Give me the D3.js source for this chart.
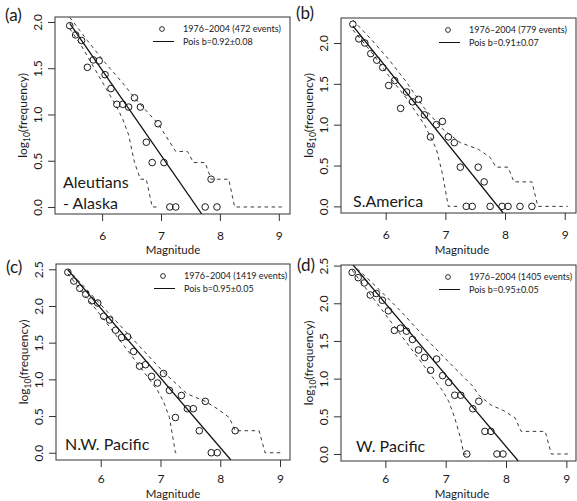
<!DOCTYPE html>
<html>
<head>
<meta charset="utf-8">
<script src="https://cdn.jsdelivr.net/npm/d3@7"></script>
<style>
  body { margin: 0; background: #fff; }
  svg { display: block; }
  text { font-family: Lato, "Open Sans", sans-serif; fill: #1a1a1a; }
</style>
</head>
<body>
<div id="chart"></div>
<script>
// panel texts
const panelTags = ['(a)', '(b)', '(c)', '(d)'];
const regionNames = [['Aleutians', '- Alaska'], ['S.America'], ['N.W. Pacific'], ['W. Pacific']];
const eventCounts = [472, 779, 1419, 1405];
const bLabels = ['0.92±0.08', '0.91±0.07', '0.95±0.05', '0.95±0.05'];
const fitSlope = [0.92, 0.91, 0.95, 0.95];
const fitIntercept = [7.0, 7.17, 7.67, 7.70];
const xTicks = [6, 7, 8, 9];
const yTicksLow = [0, 0.5, 1.0, 1.5, 2.0];
const yTicksHigh = [0, 0.5, 1.0, 1.5, 2.0, 2.5];

// (a) Aleutians - Alaska
const magA = [5.45, 5.55, 5.65, 5.75, 5.85, 5.95, 6.05, 6.15, 6.25, 6.35, 6.45, 6.55, 6.65, 6.75, 6.85, 6.95, 7.05, 7.15, 7.25, 7.75, 7.85, 7.95];
const logA = [1.96, 1.86, 1.80, 1.51, 1.59, 1.58, 1.43, 1.28, 1.11, 1.11, 1.08, 1.18, 1.08, 0.70, 0.48, 0.90, 0.48, 0, 0, 0, 0.30, 0];
const upperA = [[5.45, 2.05], [5.75, 1.80], [6.05, 1.56], [6.35, 1.34], [6.55, 1.18], [6.75, 1.04], [6.95, 0.90], [7.15, 0.70], [7.25, 0.60], [7.45, 0.60], [7.55, 0.48], [7.75, 0.48], [7.85, 0.30], [8.15, 0.30], [8.25, 0], [9.05, 0]];
const lowerA = [[5.45, 1.93], [5.65, 1.74], [5.85, 1.52], [6.05, 1.30], [6.25, 1.08], [6.35, 0.95], [6.45, 0.78], [6.55, 0.48], [6.65, 0.30], [6.75, 0.30], [6.85, 0], [6.95, 0]];

// (b) S.America
const magB = [5.45, 5.55, 5.65, 5.75, 5.85, 5.95, 6.05, 6.15, 6.25, 6.35, 6.45, 6.55, 6.65, 6.75, 6.85, 6.95, 7.05, 7.15, 7.25, 7.35, 7.45, 7.55, 7.65, 7.75, 7.95, 8.05, 8.25, 8.45];
const logB = [2.23, 2.05, 2.00, 1.87, 1.79, 1.70, 1.48, 1.54, 1.20, 1.40, 1.28, 1.31, 1.12, 0.85, 1.00, 1.04, 0.85, 0.78, 0.48, 0, 0, 0.48, 0.30, 0, 0, 0, 0, 0];
const upperB = [[5.45, 2.28], [5.75, 2.05], [6.05, 1.80], [6.35, 1.52], [6.65, 1.20], [6.95, 0.95], [7.25, 0.78], [7.55, 0.70], [7.75, 0.60], [7.85, 0.48], [8.05, 0.48], [8.15, 0.30], [8.45, 0.30], [8.55, 0], [9.05, 0]];
const lowerB = [[5.45, 2.16], [5.75, 1.90], [6.05, 1.60], [6.35, 1.32], [6.65, 1.00], [6.85, 0.70], [6.95, 0.40], [7.05, 0], [7.25, 0]];

// (c) N.W. Pacific
const magC = [5.45, 5.55, 5.65, 5.75, 5.85, 5.95, 6.05, 6.15, 6.25, 6.35, 6.45, 6.55, 6.65, 6.75, 6.85, 6.95, 7.05, 7.15, 7.25, 7.35, 7.45, 7.55, 7.65, 7.75, 7.85, 7.95, 8.25];
const logC = [2.46, 2.34, 2.24, 2.16, 2.07, 2.04, 1.86, 1.81, 1.67, 1.57, 1.58, 1.38, 1.18, 1.20, 1.04, 0.95, 1.08, 0.85, 0.48, 0.78, 0.60, 0.60, 0.30, 0.70, 0, 0, 0.30];
const upperC = [[5.45, 2.50], [5.85, 2.15], [6.25, 1.80], [6.65, 1.45], [7.05, 1.10], [7.45, 0.80], [7.75, 0.70], [7.95, 0.60], [8.15, 0.48], [8.25, 0.30], [8.65, 0.30], [8.75, 0], [9.05, 0]];
const lowerC = [[5.45, 2.44], [5.75, 2.13], [6.05, 1.82], [6.35, 1.50], [6.65, 1.18], [6.95, 0.85], [7.05, 0.70], [7.15, 0.48], [7.25, 0], [7.30, 0]];

// (d) W. Pacific
const magD = [5.45, 5.55, 5.65, 5.75, 5.85, 5.95, 6.05, 6.15, 6.25, 6.35, 6.45, 6.55, 6.65, 6.75, 6.85, 6.95, 7.05, 7.15, 7.25, 7.35, 7.45, 7.55, 7.65, 7.75, 7.85, 7.95];
const logD = [2.41, 2.34, 2.27, 2.11, 2.13, 2.04, 1.90, 1.64, 1.67, 1.63, 1.52, 1.38, 1.28, 1.11, 1.26, 1.04, 0.95, 0.78, 0.78, 0, 0.60, 0.70, 0.30, 0.30, 0, 0];
const upperD = [[5.45, 2.52], [5.85, 2.22], [6.25, 1.90], [6.65, 1.55], [7.05, 1.22], [7.45, 0.90], [7.55, 0.78], [7.75, 0.65], [7.95, 0.58], [8.15, 0.48], [8.25, 0.30], [8.65, 0.30], [8.75, 0], [9.05, 0]];
const lowerD = [[5.45, 2.44], [5.75, 2.12], [6.05, 1.80], [6.35, 1.48], [6.65, 1.16], [6.95, 0.84], [7.05, 0.70], [7.15, 0.48], [7.25, 0.20], [7.30, 0], [7.35, 0]];

const width = 577;
const height = 501;

const svg = d3.select("#chart")
  .append("svg")
  .attr("width", width)
  .attr("height", height);

// where each panel sits on the page (pad = tick label padding, xt = x title baseline)
const layout = [
  {left: 55, top: 17, right: 290, bottom: 214, xd: [5.2, 9.19], yd: [-0.076, 2.054], yt: yTicksLow, tag: [5, 21], name: [8, -5], mid: 173, pad: 10.5, xt: 253.5},
  {left: 341, top: 18, right: 576, bottom: 213, xd: [5.251, 9.189], yd: [-0.081, 2.306], yt: yTicksLow, tag: [296, 19], name: [12, -6], mid: 462, pad: 10.5, xt: 253.5},
  {left: 56, top: 264, right: 290, bottom: 460, xd: [5.252, 9.167], yd: [-0.099, 2.572], yt: yTicksHigh, tag: [6, 273], name: [9, -10], mid: 173, pad: 7.5, xt: 497.5},
  {left: 341, top: 265, right: 576, bottom: 461, xd: [5.265, 9.16], yd: [-0.093, 2.508], yt: yTicksHigh, tag: [297, 271], name: [15, -9], mid: 462, pad: 6.5, xt: 497.5}
];

const mags = [magA, magB, magC, magD];
const logs = [logA, logB, logC, logD];
const uppers = [upperA, upperB, upperC, upperD];
const lowers = [lowerA, lowerB, lowerC, lowerD];

layout.forEach(function(p, i) {
  const x = d3.scaleLinear().domain(p.xd).range([p.left, p.right]);
  const y = d3.scaleLinear().domain(p.yd).range([p.bottom, p.top]);
  const g = svg.append("g");

  g.append("clipPath").attr("id", "clip" + i)
    .append("rect")
    .attr("x", p.left).attr("y", p.top)
    .attr("width", p.right - p.left).attr("height", p.bottom - p.top);

  // confidence bounds
  const line = d3.line().x(d => x(d[0])).y(d => y(d[1]));
  [uppers[i], lowers[i]].forEach(function(b) {
    g.append("path")
      .attr("d", line(b))
      .attr("fill", "none")
      .attr("stroke", "#3a3a3a")
      .attr("stroke-width", 1)
      .attr("stroke-dasharray", "3.5,3.5")
      .attr("clip-path", "url(#clip" + i + ")");
  });

  // poisson fit line, runs down to the bottom of the box
  const x0 = mags[i][0];
  const x1 = (fitIntercept[i] - p.yd[0]) / fitSlope[i];
  g.append("path")
    .attr("d", line([[x0, fitIntercept[i] - fitSlope[i] * x0], [x1, fitIntercept[i] - fitSlope[i] * x1]]))
    .attr("fill", "none")
    .attr("stroke", "#111")
    .attr("stroke-width", 1.3)
    .attr("clip-path", "url(#clip" + i + ")");

  // observed counts
  g.selectAll(".pt")
    .data(mags[i].map((m, k) => [m, logs[i][k]]))
    .enter().append("circle")
    .attr("class", "pt")
    .attr("cx", d => x(d[0]))
    .attr("cy", d => y(d[1]))
    .attr("r", 3.3)
    .attr("fill", "none")
    .attr("stroke", "#1a1a1a")
    .attr("stroke-width", 1);

  // box
  g.append("rect")
    .attr("x", p.left).attr("y", p.top)
    .attr("width", p.right - p.left).attr("height", p.bottom - p.top)
    .attr("fill", "none")
    .attr("stroke", "#333")
    .attr("stroke-width", 1);

  // axes
  const xAxis = g.append("g")
    .attr("transform", "translate(0," + p.bottom + ")")
    .call(d3.axisBottom(x).tickValues(xTicks).tickSize(7).tickPadding(p.pad).tickFormat(d3.format("d")));
  xAxis.select(".domain").remove();

  const yAxis = g.append("g")
    .attr("transform", "translate(" + p.left + ",0)")
    .call(d3.axisLeft(y).tickValues(p.yt).tickSize(7).tickFormat(d3.format(".1f")));
  yAxis.select(".domain").remove();
  yAxis.selectAll("text")
    .attr("x", 0).attr("dy", null)
    .attr("y", -13.5)
    .attr("transform", "rotate(-90)")
    .attr("text-anchor", "middle");

  svg.selectAll(".tick line").attr("stroke", "#333");
  svg.selectAll(".tick text").style("font-family", "Lato, sans-serif").style("font-size", "12px").attr("fill", "#1a1a1a");

  // axis titles
  const yl = g.append("text")
    .attr("transform", "translate(" + (p.left - 28) + "," + ((p.top + p.bottom) / 2) + ") rotate(-90)")
    .attr("text-anchor", "middle")
    .style("font-size", "12px");
  yl.append("tspan").text("log");
  yl.append("tspan").text("10").style("font-size", "8.5px").attr("dy", 3);
  yl.append("tspan").text("(frequency)").attr("dy", -3);

  g.append("text")
    .attr("x", p.mid)
    .attr("y", p.xt)
    .attr("text-anchor", "middle")
    .style("font-size", "11.5px")
    .text("Magnitude");

  // panel tag
  g.append("text")
    .attr("x", p.tag[0]).attr("y", p.tag[1])
    .style("font-size", "17px")
    .text(panelTags[i]);

  // region name
  regionNames[i].forEach(function(n, k, arr) {
    g.append("text")
      .attr("x", p.left + p.name[0])
      .attr("y", p.bottom + p.name[1] - (arr.length - 1 - k) * 21)
      .style("font-size", "16px")
      .text(n);
  });

  // legend
  const lx = p.left + 107;
  const ly = p.top + 12;
  g.append("circle")
    .attr("cx", lx).attr("cy", ly).attr("r", 2.4)
    .attr("fill", "none").attr("stroke", "#1a1a1a").attr("stroke-width", 0.9);
  g.append("line")
    .attr("x1", lx - 9).attr("x2", lx + 12)
    .attr("y1", ly + 12.5).attr("y2", ly + 12.5)
    .attr("stroke", "#111").attr("stroke-width", 1);
  g.append("text")
    .attr("x", lx + 21).attr("y", ly + 3)
    .style("font-size", "9px")
    .text("1976\u20132004 (" + eventCounts[i] + " events)");
  g.append("text")
    .attr("x", lx + 21).attr("y", ly + 15.5)
    .style("font-size", "9px")
    .text("Pois b=" + bLabels[i]);
});
</script>
</body>
</html>
